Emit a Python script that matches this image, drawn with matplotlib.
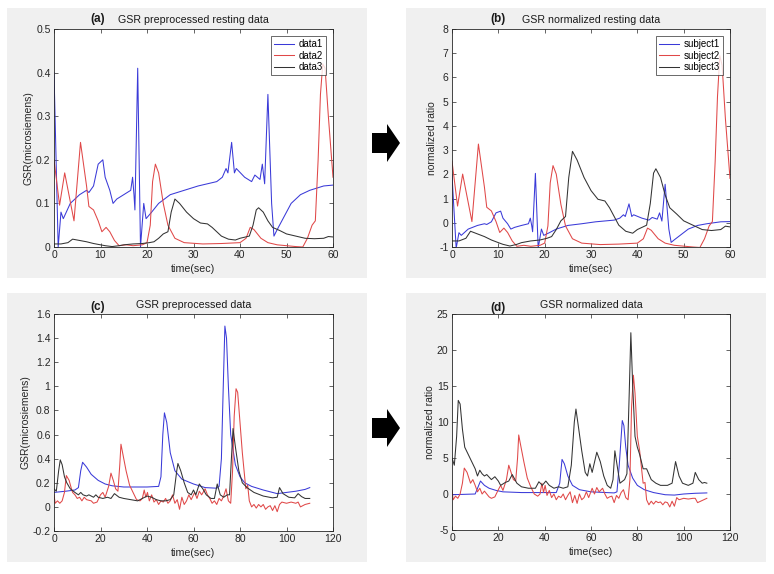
import matplotlib
matplotlib.use("Agg")
import matplotlib.pyplot as plt
from matplotlib.patches import Rectangle, Polygon
from matplotlib.ticker import FormatStrFormatter

plt.rcParams['font.family'] = ['Liberation Sans', 'DejaVu Sans']

# ---- (a) GSR preprocessed resting data ----
a_t1 = [0, 0.9, 1.5, 2.0, 3.5, 5.5, 7.0, 7.5, 8.5, 9.5, 10.5, 11.0, 12.0, 12.7, 13.5, 15.0,
        16.5, 16.9, 17.2, 17.4, 18.0, 18.6, 19.3, 19.8, 21.0, 22.5, 25.0, 28.0, 31.0, 35.0,
        36.2, 37.0, 37.4, 38.2, 38.8, 39.2, 41.0, 42.5, 43.2, 44.3, 44.8, 45.3, 46.0, 46.8,
        47.3, 48.0, 49.5, 51.0, 53.0, 55.0, 58.0, 60.0]
a_data1 = [0.40, 0.0, 0.08, 0.065, 0.10, 0.12, 0.13, 0.125, 0.14, 0.19, 0.20, 0.16, 0.13, 0.10,
           0.11, 0.12, 0.13, 0.16, 0.12, 0.085, 0.41, 0.0, 0.10, 0.065, 0.08, 0.10, 0.12, 0.13,
           0.14, 0.15, 0.16, 0.18, 0.17, 0.24, 0.17, 0.18, 0.16, 0.15, 0.165, 0.155, 0.19, 0.145,
           0.35, 0.10, 0.025, 0.04, 0.07, 0.10, 0.12, 0.13, 0.14, 0.142]
a_t2 = [0, 1.2, 2.3, 4.3, 5.7, 7.0, 7.5, 8.5, 9.5, 10.3, 11.2, 12.0, 13.0, 14.0, 15.5, 17.0,
        19.0, 20.0, 20.7, 21.2, 21.8, 22.5, 23.5, 24.5, 26.0, 28.0, 32.0, 36.0, 40.0, 41.3,
        42.2, 43.0, 44.5, 46.0, 48.0, 52.0, 53.5, 54.5, 55.5, 56.2, 56.8, 57.3, 57.8, 58.3,
        59.0, 60.0]
a_data2 = [0.20, 0.096, 0.17, 0.06, 0.24, 0.14, 0.093, 0.085, 0.06, 0.035, 0.045, 0.035, 0.015,
           0.003, 0.005, 0.003, 0.005, 0.01, 0.05, 0.15, 0.19, 0.17, 0.10, 0.05, 0.02, 0.01,
           0.007, 0.008, 0.01, 0.02, 0.045, 0.04, 0.02, 0.01, 0.005, 0.001, 0.0, 0.02, 0.05,
           0.06, 0.2, 0.35, 0.42, 0.41, 0.3, 0.16]
a_t3 = [0, 1.5, 3, 4, 5.5, 7, 8.5, 10, 11, 12.5, 14, 15, 17, 19, 20.5, 21.5, 22.5, 23.5, 24.5,
        25.2, 26, 27, 28.5, 30, 31.5, 33, 34, 35, 36, 37.5, 39, 40, 42, 42.8, 43.5, 44, 45, 46,
        47, 48.5, 50, 52, 54, 56, 58, 59, 60]
a_data3 = [0.007, 0.007, 0.01, 0.018, 0.015, 0.012, 0.008, 0.005, 0.003, 0.001, 0.003, 0.005,
           0.007, 0.008, 0.01, 0.012, 0.02, 0.03, 0.035, 0.08, 0.11, 0.10, 0.08, 0.065, 0.055,
           0.053, 0.045, 0.035, 0.025, 0.018, 0.016, 0.02, 0.025, 0.05, 0.085, 0.09, 0.08, 0.06,
           0.045, 0.038, 0.03, 0.025, 0.02, 0.019, 0.02, 0.024, 0.023]

# ---- (b) GSR normalized resting data ----
b_subject1 = [1.96, -1.05, -0.41, -0.52, -0.26, -0.11, -0.04, -0.07, 0.04, 0.41, 0.48, 0.19,
              -0.04, -0.26, -0.19, -0.11, -0.04, 0.19, -0.11, -0.37, 2.04, -1.05, -0.26, -0.52,
              -0.41, -0.26, -0.11, -0.04, 0.04, 0.11, 0.19, 0.33, 0.26, 0.78, 0.26, 0.33, 0.19,
              0.11, 0.22, 0.15, 0.41, 0.07, 1.59, -0.26, -0.81, -0.70, -0.48, -0.26, -0.11,
              -0.04, 0.04, 0.05]
b_subject2 = [2.54, 0.69, 2.01, 0.05, 3.25, 1.47, 0.64, 0.49, 0.05, -0.40, -0.22, -0.40, -0.75,
              -0.97, -0.93, -0.97, -0.93, -0.84, -0.13, 1.65, 2.36, 2.01, 0.76, -0.13, -0.66,
              -0.84, -0.90, -0.88, -0.84, -0.66, -0.22, -0.31, -0.66, -0.84, -0.93, -1.0, -1.02,
              -0.66, -0.13, 0.05, 2.54, 5.21, 6.9, 6.5, 4.32, 1.83]
b_subject3 = [-0.75, -0.75, -0.64, -0.35, -0.46, -0.57, -0.71, -0.82, -0.89, -0.96, -0.89,
              -0.82, -0.75, -0.71, -0.64, -0.57, -0.28, 0.08, 0.26, 1.87, 2.95, 2.59, 1.87, 1.33,
              0.97, 0.90, 0.62, 0.26, -0.10, -0.35, -0.43, -0.28, -0.10, 0.80, 2.05, 2.23, 1.87,
              1.15, 0.62, 0.36, 0.08, -0.10, -0.28, -0.32, -0.28, -0.14, -0.17]

# ---- (c) GSR preprocessed data ----
c_t1 = [0, 5, 9, 10.5, 11.5, 12.3, 14, 16, 19, 22, 25, 30, 40, 45, 46, 46.8, 47.5, 48.5, 50,
        52, 55, 60, 65, 70, 71, 72, 72.8, 73.5, 74.2, 75, 76, 78, 80, 82, 85, 90, 94, 96, 100,
        104, 108, 110]
c_blue = [0.12, 0.13, 0.14, 0.16, 0.3, 0.37, 0.33, 0.27, 0.22, 0.19, 0.175, 0.165, 0.165, 0.17,
          0.25, 0.6, 0.78, 0.7, 0.45, 0.3, 0.23, 0.19, 0.16, 0.155, 0.17, 0.4, 1.0, 1.5, 1.4,
          1.0, 0.6, 0.35, 0.25, 0.2, 0.17, 0.14, 0.12, 0.11, 0.12, 0.13, 0.145, 0.16]
c_t2 = [0, 0.5, 1.5, 2.5, 3.5, 4.5, 5.3, 6.5, 7.5, 8, 9, 10, 11, 12, 13, 14, 16, 17, 18.5, 20,
        21, 22, 23.5, 24.5, 25.5, 26.5, 27.5, 28.3, 28.8, 29.5, 31, 32.5, 34, 35.5, 37, 38,
        38.8, 39.5, 40.2, 41, 42, 43, 44, 45, 46, 47, 48, 49, 50, 51, 52, 53, 54, 55, 56, 57,
        58, 59, 60.5, 61.5, 62.5, 63.5, 65, 66, 67, 68, 69, 70, 71, 72, 73, 74, 75, 76, 76.8,
        77.5, 78.3, 79, 80, 81, 82, 82.5, 83.3, 84, 85, 86, 87, 88, 89, 90, 91, 92, 93, 94, 95,
        96, 97, 98, 100, 102, 104, 105, 106, 108, 110]
c_red = [0.1, 0.03, 0.05, 0.03, 0.05, 0.12, 0.26, 0.22, 0.15, 0.12, 0.1, 0.07, 0.08, 0.05, 0.08,
         0.06, 0.05, 0.03, 0.04, 0.1, 0.12, 0.08, 0.17, 0.28, 0.22, 0.15, 0.13, 0.35, 0.52, 0.45,
         0.3, 0.18, 0.12, 0.06, 0.05, 0.07, 0.14, 0.08, 0.12, 0.05, 0.1, 0.04, 0.06, 0.02, 0.05,
         0.04, 0.07, 0.03, 0.05, 0.1, 0.03, 0.06, -0.02, 0.08, 0.02, 0.05, 0.1, 0.06, 0.12, 0.07,
         0.13, 0.1, 0.15, 0.1, 0.07, 0.03, 0.05, 0.02, 0.07, 0.05, 0.09, 0.15, 0.05, 0.03, 0.3,
         0.75, 0.98, 0.95, 0.7, 0.45, 0.25, 0.15, 0.18, 0.05, 0.0, 0.02, -0.01, 0.02, 0.0, 0.02,
         -0.02, 0.0, 0.01, -0.03, 0.01, -0.04, 0.02, 0.04, 0.03, 0.04, 0.03, 0.04, 0.0, 0.02,
         0.03]
c_t3 = [0, 1, 2, 2.7, 3.5, 4.5, 5.5, 7, 9, 10.5, 11.5, 12.5, 14, 15, 17, 18, 19, 21, 23, 24.5,
        26, 28, 30, 33, 36, 38, 40, 42, 44, 46, 48, 50, 51.5, 52.8, 53.3, 54.5, 56, 57.5, 59, 60,
        61, 62.5, 64, 65.5, 67.5, 69, 70.2, 71.5, 73, 74.5, 75.5, 76.3, 77, 78, 79.5, 81, 83,
        86, 90, 94, 96, 97, 98.5, 101, 103.5, 105, 106.5, 108, 110]
c_black = [0.15, 0.13, 0.3, 0.39, 0.35, 0.25, 0.2, 0.15, 0.12, 0.1, 0.12, 0.1, 0.09, 0.1, 0.08,
           0.1, 0.08, 0.07, 0.08, 0.07, 0.11, 0.08, 0.07, 0.06, 0.05, 0.07, 0.09, 0.08, 0.06,
           0.05, 0.05, 0.06, 0.1, 0.3, 0.36, 0.3, 0.2, 0.12, 0.1, 0.14, 0.1, 0.19, 0.15, 0.1,
           0.07, 0.07, 0.19, 0.1, 0.08, 0.1, 0.1, 0.4, 0.65, 0.5, 0.3, 0.2, 0.16, 0.12, 0.09,
           0.075, 0.08, 0.16, 0.11, 0.08, 0.075, 0.11, 0.085, 0.07, 0.07]

# ---- (d) GSR normalized data ----
d_t1 = [0, 10, 12.3, 14, 16, 19, 22, 30, 45, 46.5, 47.5, 48.5, 50, 52, 55, 60, 70, 71.2, 72.2,
        73.5, 74.2, 75, 76, 78, 80, 83, 87, 92, 96, 100, 105, 110]
d_blue = [-0.1, 0.0, 1.8, 1.2, 0.8, 0.5, 0.3, 0.2, 0.2, 1.5, 4.8, 4.2, 2.5, 1.2, 0.6, 0.3, 0.15,
          0.3, 4.0, 10.2, 9.5, 6.5, 4.0, 2.2, 1.2, 0.6, 0.2, -0.1, -0.15, 0.0, 0.1, 0.15]
d_red = [0.5, -0.8, -0.3, -0.6, 0.0, 1.5, 3.6, 3.0, 2.0, 1.5, 2.0, 1.2, 0.3, 0.8, 0.0, 0.4,
         -0.4, -0.6, -0.4, 0.6, 1.2, 0.5, 2.0, 4.0, 3.0, 2.0, 1.8, 5.0, 8.2, 7.0, 4.5, 2.2, 1.0,
         0.0, -0.3, 0.0, 1.5, 0.2, 1.2, -0.2, 0.5, -0.5, 0.0, -0.8, -0.3, -0.5, 0.0, -0.8, -0.2,
         0.3, -1.2, -0.2, -1.3, 0.0, -0.8, -0.5, 0.3, -0.5, 0.8, 0.0, 0.9, 0.3, 0.8, 0.0, -0.6,
         -0.4, -0.3, -1.2, -0.2, -0.6, 0.2, 0.6, -0.5, -0.8, 2.0, 12.0, 16.5, 14.0, 8.0, 6.0,
         3.0, 1.5, 1.6, -0.8, -1.5, -1.0, -1.4, -1.0, -1.2, -1.1, -1.5, -1.1, -1.2, -1.8, -1.0,
         -1.7, -0.5, -0.8, -0.6, -0.7, -0.6, -0.6, -1.2, -0.9, -0.6]
d_t3 = [0, 1, 2, 2.7, 3.5, 4.5, 5.5, 7, 8.5, 10, 11, 12, 13, 14, 15, 17, 18.5, 20, 21, 23, 24.5,
        26, 28, 30, 33, 36, 37.5, 39, 40.5, 42, 44, 46, 48, 50, 51.5, 52.8, 53.5, 54.5, 56,
        57.5, 58.5, 59.5, 60.5, 62.5, 64, 65.5, 67, 68.5, 69.5, 70.3, 71.5, 72.5, 74.5, 75.5,
        76.5, 77.2, 78, 79, 80, 81, 82.5, 84, 86, 88, 90, 93, 95, 96.5, 98, 99.5, 102, 104, 105,
        106.5, 108, 109, 110]
d_black = [5.0, 4.0, 8.0, 13.0, 12.5, 9.0, 6.5, 5.5, 4.5, 3.5, 2.5, 3.3, 2.8, 2.5, 2.7, 2.0,
           2.4, 1.8, 1.2, 1.6, 1.8, 2.7, 1.5, 1.0, 0.8, 0.8, 1.7, 1.2, 1.8, 1.2, 0.8, 1.0, 0.8,
           1.0, 4.0, 10.0, 11.8, 9.5, 6.0, 3.0, 2.5, 4.2, 3.0, 5.8, 4.5, 2.5, 1.2, 0.8, 2.0, 6.0,
           3.5, 1.5, 2.0, 2.8, 14.0, 22.4, 15.0, 8.0, 6.5, 5.5, 3.5, 3.5, 2.0, 1.5, 1.2, 1.2, 1.5,
           4.5, 2.5, 1.5, 1.2, 1.5, 3.0, 2.0, 1.5, 1.6, 1.5]

BLUE = '#3a3ad8'
RED = '#e04848'
BLACK = '#333333'
LW = 0.75
W, H = 774, 574

fig = plt.figure(figsize=(W / 100, H / 100), dpi=100)
fig.patch.set_facecolor('white')

# grey panel backgrounds (pixel boxes: left, top, right, bottom)
for x0, y0, x1, y1 in [(7, 8, 367, 278), (406, 8, 766, 278), (7, 293, 367, 562), (406, 293, 766, 562)]:
    fig.patches.append(Rectangle((x0 / W, 1 - y1 / H), (x1 - x0) / W, (y1 - y0) / H,
                                 transform=fig.transFigure, facecolor='#f0f0f0',
                                 edgecolor='none', zorder=-5))

# block arrows between panels
for cy in [143, 428]:
    pts = [(372, cy - 10), (387, cy - 10), (387, cy - 19), (400, cy), (387, cy + 19),
           (387, cy + 10), (372, cy + 10)]
    fig.patches.append(Polygon([(x / W, 1 - y / H) for x, y in pts], closed=True,
                               transform=fig.transFigure, facecolor='black',
                               edgecolor='none', zorder=-4))


def make_ax(left, top, right, bottom):
    ax = fig.add_axes([left / W, 1 - bottom / H, (right - left) / W, (bottom - top) / H])
    ax.set_facecolor('white')
    ax.tick_params(direction='in', top=True, right=True, length=3, width=0.5,
                   labelsize=7.5, colors='#262626', pad=2.5)
    for s in ax.spines.values():
        s.set_linewidth(0.6)
        s.set_color('#262626')
    return ax


def finish(ax, tag, title, ylabel, xmax, xstep, ylim, ystep, tag_x, tag_dy):
    ax.set_xlim(0, xmax)
    ax.set_xticks(range(0, xmax + 1, xstep))
    ax.set_ylim(*ylim)
    n = int(round((ylim[1] - ylim[0]) / ystep))
    ax.set_yticks([round(ylim[0] + i * ystep, 4) for i in range(n + 1)])
    ax.yaxis.set_major_formatter(FormatStrFormatter('%g'))
    ax.set_title(title, fontsize=7.7, pad=4, color='#1a1a1a')
    ax.text(tag_x, 1 + tag_dy, tag, transform=ax.transAxes, fontsize=8.5,
            fontweight='bold', ha='center', va='center', color='#1a1a1a')
    ax.set_xlabel('time(sec)', fontsize=7.7, labelpad=2.5, color='#262626')
    ax.set_ylabel(ylabel, fontsize=7.5, labelpad=1.5, color='#262626')


def legend(ax, names):
    leg = ax.legend(names, loc='upper right', fontsize=7, frameon=True, fancybox=False,
                    borderpad=0.3, handlelength=2.0, handletextpad=0.5, labelspacing=0.15,
                    borderaxespad=0.75)
    leg.get_frame().set_edgecolor('#262626')
    leg.get_frame().set_linewidth(0.6)


# (a)
ax = make_ax(54, 29, 333, 247)
ax.plot(a_t1, a_data1, color=BLUE, lw=LW)
ax.plot(a_t2, a_data2, color=RED, lw=LW)
ax.plot(a_t3, a_data3, color=BLACK, lw=LW)
finish(ax, '(a)', 'GSR preprocessed resting data', 'GSR(microsiemens)', 60, 10, (0, 0.5), 0.1, 0.158, 0.045)
legend(ax, ['data1', 'data2', 'data3'])

# (b)
ax = make_ax(452, 29, 730, 247)
ax.plot(a_t1, b_subject1, color=BLUE, lw=LW)
ax.plot(a_t2, b_subject2, color=RED, lw=LW)
ax.plot(a_t3, b_subject3, color=BLACK, lw=LW)
finish(ax, '(b)', 'GSR normalized resting data', 'normalized ratio', 60, 10, (-1, 8), 1, 0.165, 0.045)
legend(ax, ['subject1', 'subject2', 'subject3'])

# (c)
ax = make_ax(54, 314, 333, 531)
ax.plot(c_t1, c_blue, color=BLUE, lw=LW)
ax.plot(c_t2, c_red, color=RED, lw=LW)
ax.plot(c_t3, c_black, color=BLACK, lw=LW)
finish(ax, '(c)', 'GSR preprocessed data', 'GSR(microsiemens)', 120, 20, (-0.2, 1.6), 0.2, 0.155, 0.03)

# (d)
ax = make_ax(452, 314, 730, 530)
ax.plot(d_t1, d_blue, color=BLUE, lw=LW)
ax.plot(c_t2, d_red, color=RED, lw=LW)
ax.plot(d_t3, d_black, color=BLACK, lw=LW)
finish(ax, '(d)', 'GSR normalized data', 'normalized ratio', 120, 20, (-5, 25), 5, 0.165, 0.03)

fig.savefig('out.png', dpi=100, facecolor='white')
